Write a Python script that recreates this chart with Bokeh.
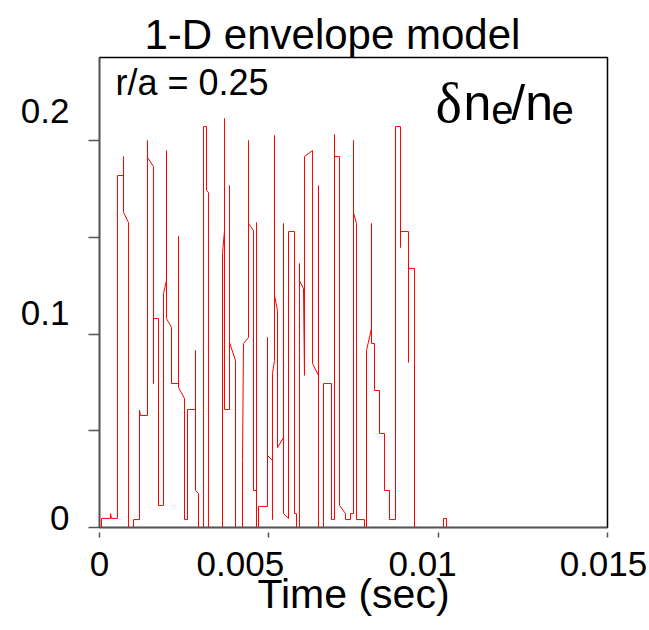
from bokeh.plotting import figure
from bokeh.models import FixedTicker, Label, Range1d
from bokeh.embed import file_html
from bokeh.resources import INLINE

# time (s) and delta n_e / n_e (vertex sequence of the trace)
time_s = [
    0.0, 0.000059, 0.000059, 0.000325, 0.000325, 0.000354, 0.000531, 0.000531,
    0.000709, 0.000709, 0.000709, 0.000856, 0.000856,
    0.001004, 0.001004, 0.001181, 0.001181, 0.001211, 0.001417, 0.001417, 0.001417, 0.001594, 0.001594,
    0.001594, 0.001742, 0.001742, 0.00189, 0.00189, 0.001978, 0.001978, 0.001978, 0.002126, 0.002126,
    0.002333, 0.002333, 0.002333, 0.00251, 0.00251,
    0.002598, 0.002598, 0.002835, 0.002835, 0.002835, 0.002923, 0.002923,
    0.003071, 0.003071, 0.003159, 0.003159, 0.003218, 0.003218,
    0.003632, 0.003632, 0.003691, 0.003691, 0.003691, 0.003839, 0.003839, 0.003839, 0.004016, 0.004016,
    0.004222, 0.004222, 0.004252, 0.0044, 0.0044, 0.0044, 0.004547, 0.004547, 0.004636, 0.004636, 0.004636,
    0.004695, 0.004695, 0.004961, 0.004961, 0.004961, 0.005108, 0.005108, 0.005108, 0.005167, 0.005167,
    0.005167, 0.005256, 0.005256, 0.005433, 0.005433, 0.005433, 0.005581, 0.005581, 0.005758, 0.005758,
    0.005817, 0.005817,
    0.005905, 0.005905, 0.005905, 0.006024, 0.006053, 0.006053, 0.006289, 0.006289, 0.006466, 0.006466, 0.006466,
    0.006614, 0.006614, 0.00685, 0.00685, 0.006939, 0.006939, 0.006939, 0.007086, 0.007086, 0.007264, 0.007264,
    0.007411, 0.007411, 0.0075, 0.0075, 0.0075, 0.007588, 0.007588, 0.007825, 0.007825,
    0.007884, 0.007884, 0.008031, 0.008031, 0.008031, 0.00812, 0.00812, 0.008268, 0.008268, 0.008415, 0.008415,
    0.008563, 0.008563, 0.00874, 0.00874, 0.008888, 0.008888, 0.008888, 0.009124, 0.009124, 0.009124,
    0.009301, 0.009301,
    0.010157, 0.010157, 0.010246, 0.010246,
]
dn_ne = [
    0, 0, 0.0047, 0.0047, 0.0072, 0.0047, 0.0047, 0.1819,
    0.1819, 0.1917, 0.1628, 0.1576, 0,
    0, 0.0041, 0.0041, 0.0605, 0.0579, 0.0579, 0.2000, 0.1912, 0.1866, 0.0744,
    0.1080, 0.1080, 0.0114, 0.0114, 0.1209, 0.1276, 0.1948, 0.1080, 0.1034, 0.0744,
    0.0744, 0.1504, 0.0724, 0.0667, 0.0041,
    0.0041, 0.0610, 0.0610, 0.0915, 0.0191, 0.0176, 0,
    0, 0.2072, 0.2072, 0.1742, 0.1731, 0,
    0, 0.1416, 0.1535, 0.2114, 0.0610, 0.0610, 0.1767, 0.0956, 0.0863, 0,
    0, 0.0346, 0.0951, 0.0982, 0.2000, 0.1571, 0.1535, 0.0191, 0.0191, 0.1576, 0,
    0, 0.0109, 0.0109, 0.0982, 0.0372, 0.0346, 0.0041, 0.0796, 0.0863, 0.2026,
    0.1199, 0.1121, 0.0413, 0.0465, 0.1571, 0.0072, 0.0047, 0.1530, 0.1530, 0.0072,
    0.0072, 0,
    0, 0.1364, 0.1276, 0.1235, 0.0786, 0.1917, 0.1948, 0.0848, 0.0786, 0.1767, 0,
    0, 0.0744, 0.0744, 0.0041, 0.0041, 0.2031, 0.1917, 0.1917, 0.0114, 0.0072, 0.0041,
    0.0041, 0.0072, 0.0072, 0.2000, 0.1628, 0.1571, 0.0041, 0.0041, 0,
    0, 0.0915, 0.1028, 0.1571, 0.0951, 0.0951, 0.0708, 0.0708, 0.0486, 0.0486,
    0.0191, 0.0191, 0.0041, 0.0041, 0.2072, 0.2072, 0.1447, 0.1530, 0.1530, 0.0853,
    0.1339, 0.1339, 0,
    0, 0.0047, 0.0047, 0,
]

x_tick_values = [0, 0.005, 0.01, 0.015]
x_tick_labels = ["0", "0.005", "0.01", "0.015"]
x_label_pos = [0, 0.00416, 0.00954, 0.01488]
y_tick_values = [0, 0.05, 0.1, 0.15, 0.2]
y_tick_labels = ["0", "0.1", "0.2"]
y_label_pos = [0.0047, 0.1111, 0.2150]

FONT = "Liberation Sans"
AXIS_COLOR = "#555555"

p = figure(width=649, height=630, output_backend="svg", toolbar_location=None,
           x_range=Range1d(0, 0.015), y_range=Range1d(0, 0.2429),
           min_border_left=99, min_border_right=42, min_border_top=57, min_border_bottom=103)
p.background_fill_color = "white"
p.border_fill_color = "white"
p.grid.visible = False
p.outline_line_color = "black"
p.outline_line_width = 1.5

p.line(time_s, dn_ne, line_color="#ff0000", line_width=1)

p.title.text = "1-D envelope model"
p.title.text_font = FONT
p.title.text_font_size = "42px"
p.title.text_font_style = "normal"
p.title.text_color = "black"
p.title.align = "left"
p.title.offset = 45
p.title.standoff = 0

xa = p.xaxis[0]
xa.ticker = FixedTicker(ticks=x_label_pos, minor_ticks=x_tick_values)
xa.major_label_overrides = {pos: lab for pos, lab in zip(x_label_pos, x_tick_labels)}
xa.major_tick_line_color = None
xa.major_tick_out = 10
xa.major_tick_in = 0
xa.major_label_standoff = 14
xa.minor_tick_in = -5
xa.minor_tick_out = 10
xa.minor_tick_line_color = AXIS_COLOR
xa.minor_tick_line_width = 1.5
xa.axis_line_color = AXIS_COLOR
xa.axis_line_width = 1.5
xa.major_label_text_font = FONT
xa.major_label_text_font_size = "35px"
xa.major_label_text_color = "black"
xa.axis_label = "Time (sec)"
xa.axis_label_text_font = FONT
xa.axis_label_text_font_size = "41px"
xa.axis_label_text_font_style = "normal"
xa.axis_label_text_color = "black"
xa.axis_label_standoff = -8

ya = p.yaxis[0]
ya.ticker = FixedTicker(ticks=y_label_pos, minor_ticks=y_tick_values)
ya.major_label_overrides = {pos: lab for pos, lab in zip(y_label_pos, y_tick_labels)}
ya.major_tick_line_color = None
ya.major_tick_out = 11
ya.major_tick_in = 0
ya.major_label_standoff = 19
ya.minor_tick_in = 0
ya.minor_tick_out = 11
ya.minor_tick_line_color = AXIS_COLOR
ya.minor_tick_line_width = 1.5
ya.axis_line_color = AXIS_COLOR
ya.axis_line_width = 1.5
ya.major_label_text_font = FONT
ya.major_label_text_font_size = "35px"
ya.major_label_text_color = "black"
ya.major_label_orientation = "horizontal"

p.add_layout(Label(x=0.00047, y=0.2300, text="r/a = 0.25", text_font=FONT,
                   text_font_size="36px", text_color="black", text_baseline="alphabetic"))

main_size = "50px"
sub_size = "40px"
y_main = 0.2194
y_sub = 0.2156
p.add_layout(Label(x=0.00992, y=y_main, text="δ", text_font="Liberation Serif",
                   text_font_size="56px", text_color="black", text_baseline="alphabetic"))
p.add_layout(Label(x=0.01075, y=y_main, text="n", text_font=FONT,
                   text_font_size=main_size, text_color="black", text_baseline="alphabetic"))
p.add_layout(Label(x=0.01157, y=y_sub, text="e", text_font=FONT,
                   text_font_size=sub_size, text_color="black", text_baseline="alphabetic"))
p.add_layout(Label(x=0.01216, y=y_main, text="/n", text_font=FONT,
                   text_font_size=main_size, text_color="black", text_baseline="alphabetic"))
p.add_layout(Label(x=0.01335, y=y_sub, text="e", text_font=FONT,
                   text_font_size=sub_size, text_color="black", text_baseline="alphabetic"))

open("out.html", "w").write(file_html(p, INLINE))
